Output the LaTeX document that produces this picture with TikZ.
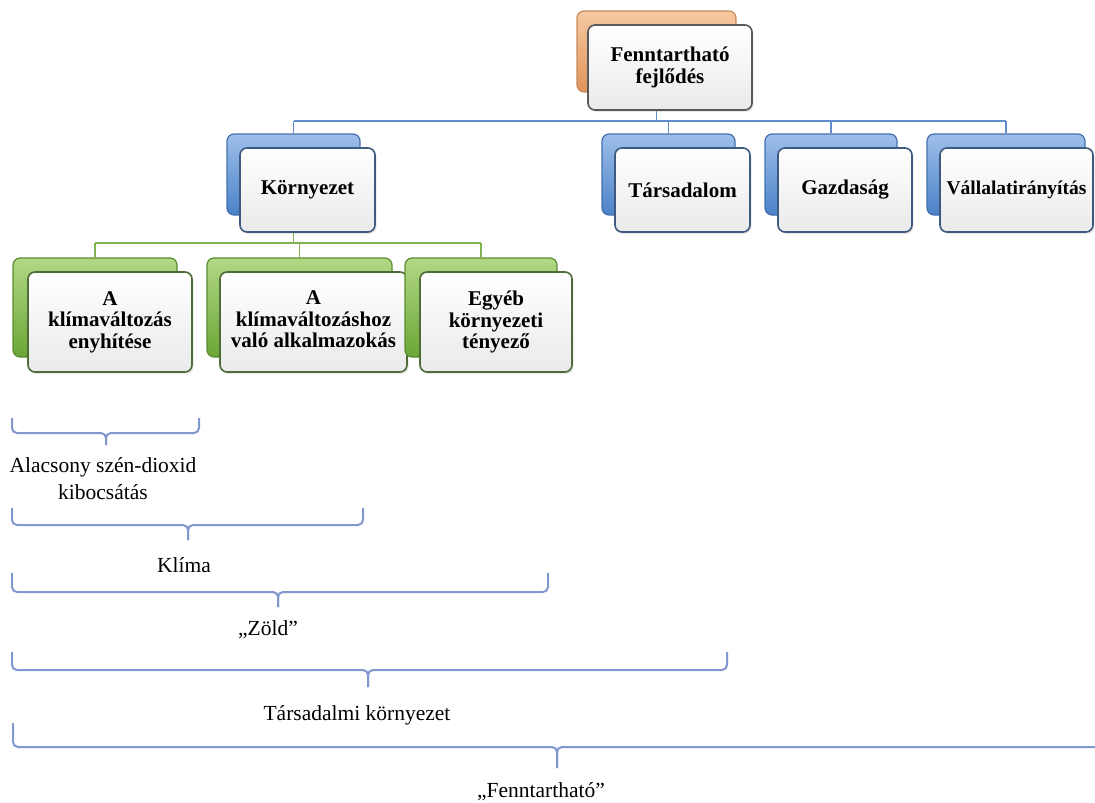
\documentclass[tikz,border=0pt]{standalone}
\usepackage{fontspec}
\setmainfont{Liberation Serif}
\usetikzlibrary{shadows}

\definecolor{orangeT}{HTML}{F6C9A2}
\definecolor{orangeD}{HTML}{E0945A}
\definecolor{orangeB}{HTML}{C98A5A}
\definecolor{blueT}{HTML}{9EBFEA}
\definecolor{blueD}{HTML}{4B82C8}
\definecolor{blueB}{HTML}{4470AE}
\definecolor{greenT}{HTML}{B2D885}
\definecolor{greenD}{HTML}{6AA636}
\definecolor{greenB}{HTML}{5A8C30}
\definecolor{frontD}{HTML}{E9EAEA}
\definecolor{grayB}{HTML}{595959}
\definecolor{blueGrayB}{HTML}{3F5A80}
\definecolor{greenGrayB}{HTML}{4F6B38}
\definecolor{connBlue}{HTML}{5F8DCB}
\definecolor{connGreen}{HTML}{7FB152}
\definecolor{bracketC}{HTML}{8297CF}

\tikzset{
  backbox/.style={draw, rounded corners=7pt, line width=1.2pt, inner sep=0pt},
  orangeback/.style={backbox, draw=orangeB, top color=orangeT, bottom color=orangeD},
  blueback/.style={backbox, draw=blueB, top color=blueT, bottom color=blueD},
  greenback/.style={backbox, draw=greenB, top color=greenT, bottom color=greenD},
  frontbox/.style={draw, rounded corners=7pt, line width=1.6pt, inner sep=0pt,
    top color=white, bottom color=frontD, align=center,
    font=\fontsize{21}{21.5}\selectfont\bfseries,
    drop shadow={opacity=0.18, shadow xshift=1.5pt, shadow yshift=-2pt}},
  grayfront/.style={frontbox, draw=grayB},
  bluefront/.style={frontbox, draw=blueGrayB},
  greenfront/.style={frontbox, draw=greenGrayB},
  blueconn/.style={draw=connBlue, line width=1.4pt},
  greenconn/.style={draw=connGreen, line width=1.4pt},
  bracketline/.style={draw=bracketC, line width=2pt, rounded corners=5pt},
  label/.style={font=\fontsize{21.5}{27}\selectfont, align=center, inner sep=0pt}
}

% an under-bracket: left x, right x, top y of the ends, y of the bar, x of the tip, lower y of the tip
\newcommand{\drawbracket}[6]{%
  \draw[bracketline] (#1,#3) -- (#1,#4) -- (#5,#4) -- (#5,#6);
  \draw[bracketline] (#2,#3) -- (#2,#4) -- (#5,#4) -- (#5,#6);
}
% centred lines, lifted a little inside their box
\newcommand{\liftedlines}[2]{\raisebox{#1}{\begin{tabular}{@{}c@{}}#2\end{tabular}}}

\begin{document}
\begin{tikzpicture}[x=1pt,y=-1pt]
\useasboundingbox (0,0) rectangle (1095,803);

% top level
\node[orangeback, minimum width=159pt, minimum height=81pt] (tb) at (656.5,51.5) {};
\node[grayfront, minimum width=164pt, minimum height=85pt] (t) at (670,67.5) {Fenntartható\\fejlődés};

% second level
\node[blueback, minimum width=133pt, minimum height=81pt] (kb) at (293.5,174.5) {};
\node[bluefront, minimum width=135pt, minimum height=84pt] (k) at (307.5,190) {Környezet};
\node[blueback, minimum width=133pt, minimum height=81pt] (sb) at (668.5,174.5) {};
\node[bluefront, minimum width=135pt, minimum height=84pt] (s) at (682.5,190) {Társadalom};
\node[blueback, minimum width=132pt, minimum height=81pt] (gb) at (831,174.5) {};
\node[bluefront, minimum width=134pt, minimum height=84pt] (g) at (845,190) {Gazdaság};
\node[blueback, minimum width=158pt, minimum height=81pt] (vb) at (1006,174.5) {};
\node[bluefront, minimum width=153pt, minimum height=84pt, font=\fontsize{19.5}{21}\selectfont\bfseries] (v) at (1016.5,190) {Vállalatirányítás};

% third level
\node[greenback, minimum width=164pt, minimum height=99pt] (e1b) at (95,307.5) {};
\node[greenfront, minimum width=164pt, minimum height=100pt] (e1) at (110,322) {A\\klímaváltozás\\enyhítése};
\node[greenback, minimum width=185pt, minimum height=99pt] (e2b) at (299.5,307.5) {};
\node[greenfront, minimum width=187pt, minimum height=100pt] (e2) at (313.5,322) {\liftedlines{5pt}{A\\klímaváltozáshoz\\való alkalmazokás}};
\node[greenback, minimum width=152pt, minimum height=99pt] (e3b) at (481,307.5) {};
\node[greenfront, minimum width=152pt, minimum height=100pt] (e3) at (496,322) {Egyéb\\környezeti\\tényező};

% blue connectors
\coordinate (busA) at (0,121);
\draw[blueconn] (tb.south |- t.south) -- (tb.south |- busA);
\draw[blueconn] (kb.north |- busA) -- (vb.north |- busA);
\foreach \c in {kb,sb,gb,vb} \draw[blueconn] (\c.north |- busA) -- (\c.north);

% green connectors
\coordinate (busB) at (0,243);
\draw[greenconn] (kb.south |- k.south) -- (kb.south |- busB);
\draw[greenconn] (e1b.north |- busB) -- (e3b.north |- busB);
\foreach \c in {e1b,e2b,e3b} \draw[greenconn] (\c.north |- busB) -- (\c.north);

% brackets and their labels
\drawbracket{12}{199}{418}{433}{106}{445}
\node[label] (l1) at (103,479) {Alacsony szén-dioxid\\kibocsátás};
\drawbracket{12}{363}{508}{525}{188}{540}
\node[label] (l2) at (184,565) {Klíma};
\drawbracket{12}{548}{573}{592}{278}{607}
\node[label] (l3) at (268,630) {„Zöld”};
\drawbracket{12}{727}{652}{670}{368}{687}
\node[label] (l4) at (357,715) {Társadalmi környezet};
\drawbracket{13}{1130}{723}{747}{557}{768}
\node[label] (l5) at (541,792) {„Fenntartható”};
\end{tikzpicture}
\end{document}
